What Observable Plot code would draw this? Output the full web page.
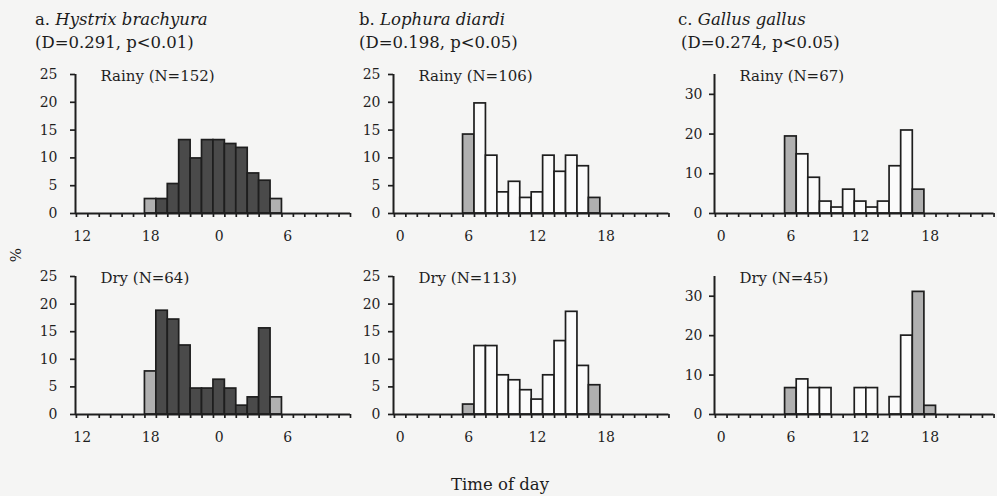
<!DOCTYPE html>
<html>
<head>
<meta charset="utf-8">
<script src="https://cdn.jsdelivr.net/npm/d3@7"></script>
<script src="https://cdn.jsdelivr.net/npm/@observablehq/plot@0.6"></script>
<style>
  html, body { margin: 0; padding: 0; background: #f5f5f4; }
  #root { position: relative; width: 997px; height: 496px; overflow: hidden; font-family: "DejaVu Serif", serif; color: #1c1c1c; }
  .abs { position: absolute; white-space: nowrap; }
  .title { font-size: 16.5px; line-height: 17px; }
  svg { overflow: visible; }
</style>
</head>
<body>
<div id="root"></div>
<script>
// ---- Data (percent of detections per hourly bin) ----
const hoursA = [18, 19, 20, 21, 22, 23, 0, 1, 2, 3, 4, 5];
const aRainy = [2.6, 2.6, 5.3, 13.2, 9.9, 13.2, 13.2, 12.5, 11.8, 7.2, 5.9, 2.6];
const aDry   = [7.8, 18.8, 17.2, 12.5, 4.7, 4.7, 6.3, 4.7, 1.6, 3.1, 15.6, 3.1];
const aTypeRainy = ["twilight","night","night","night","night","night","night","night","night","night","night","twilight"];
const aTypeDry   = ["twilight","night","night","night","night","night","night","night","night","night","night","twilight"];

const hoursB = [6, 7, 8, 9, 10, 11, 12, 13, 14, 15, 16, 17];
const bRainy = [14.2, 19.8, 10.4, 3.8, 5.7, 2.8, 3.8, 10.4, 7.5, 10.4, 8.5, 2.8];
const bDry   = [1.8, 12.4, 12.4, 7.1, 6.2, 4.4, 2.7, 7.1, 13.3, 18.6, 8.8, 5.3];
const bTypeRainy = ["twilight","day","day","day","day","day","day","day","day","day","day","twilight"];
const bTypeDry   = ["twilight","day","day","day","day","day","day","day","day","day","day","twilight"];

const hoursC = [6, 7, 8, 9, 10, 11, 12, 13, 14, 15, 16, 17, 18];
const cRainy = [19.4, 14.9, 9.0, 3.0, 1.5, 6.0, 3.0, 1.5, 3.0, 11.9, 20.9, 6.0, 0];
const cDry   = [6.7, 8.9, 6.7, 6.7, 0, 0, 6.7, 6.7, 0, 4.4, 20.0, 31.1, 2.2];
const cTypeRainy = ["twilight","day","day","day","day","day","day","day","day","day","day","twilight","twilight"];
const cTypeDry   = ["twilight","day","day","day","day","day","day","day","day","day","day","twilight","twilight"];

const tickLabelsA = ["12", "18", "0", "6"];
const tickLabelsBC = ["0", "6", "12", "18"];
const yTicks25 = [0, 5, 10, 15, 20, 25];
const yTicks35 = [0, 10, 20, 30];

const titles = [
  {letter: "a. ", species: "Hystrix brachyura", stats: "(D=0.291, p<0.01)"},
  {letter: "b. ", species: "Lophura diardi", stats: "(D=0.198, p<0.05)"},
  {letter: "c. ", species: "Gallus gallus", stats: "(D=0.274, p<0.05)"}
];
const seasonLabels = [
  ["Rainy (N=152)", "Dry (N=64)"],
  ["Rainy (N=106)", "Dry (N=113)"],
  ["Rainy (N=67)", "Dry (N=45)"]
];

const fills = {twilight: "#b0b0b0", night: "#4a4a4a", day: "#fbfbfb"};
const ink = "#1e1e1e";

// ---- layout ----
const root = document.getElementById("root");
const mL = 45, mR = 8, mT = 15, mB = 40;
const xOff = -0.08;
const cols = [
  {bin0: 75.5, pxh: 11.42, pad: 13, start: 12, tickLabels: tickLabelsA, hours: hoursA, yMax: 25, yTicks: yTicks25,
   series: [[aRainy, aTypeRainy], [aDry, aTypeDry]], titleX: 35, titleX2: 35},
  {bin0: 394.2, pxh: 11.44, pad: 8, start: 0, tickLabels: tickLabelsBC, hours: hoursB, yMax: 25, yTicks: yTicks25,
   series: [[bRainy, bTypeRainy], [bDry, bTypeDry]], titleX: 359, titleX2: 359},
  {bin0: 714.5, pxh: 11.61, pad: 7, start: 0, tickLabels: tickLabelsBC, hours: hoursC, yMax: 35, yTicks: yTicks35,
   series: [[cRainy, cTypeRainy], [cDry, cTypeDry]], titleX: 678, titleX2: 681}
];
const rows = [{yTop: 74, y0: 213}, {yTop: 276, y0: 414}];

cols.forEach((c, ci) => {
  // titles
  const t1 = document.createElement("div");
  t1.className = "abs title";
  t1.style.left = c.titleX + "px"; t1.style.top = "11px";
  t1.textContent = titles[ci].letter;
  const it = document.createElement("i");
  it.textContent = titles[ci].species;
  t1.appendChild(it);
  root.appendChild(t1);
  const t2 = document.createElement("div");
  t2.className = "abs title";
  t2.style.left = c.titleX2 + "px"; t2.style.top = "34px";
  t2.textContent = titles[ci].stats;
  root.appendChild(t2);

  rows.forEach((r, ri) => {
    const [vals, types] = c.series[ri];
    const data = c.hours.map((h, i) => {
      const p = ((h - c.start) % 24 + 24) % 24;
      return {x1: p, x2: p + 1, v: vals[i], type: types[i]};
    }).filter(d => d.v > 0);
    const plotW = (24 - xOff) * c.pxh;
    const plotH = r.y0 - r.yTop;
    const svg = Plot.plot({
      width: mL + plotW + mR,
      height: mT + plotH + mB,
      marginLeft: mL, marginRight: mR, marginTop: mT, marginBottom: mB,
      style: {fontFamily: "DejaVu Serif, serif", fontSize: "14px", background: "transparent", color: ink, overflow: "visible"},
      x: {domain: [xOff, 24]},
      y: {domain: [0, c.yMax]},
      marks: [
        Plot.rect(data, {x1: "x1", x2: "x2", y1: 0, y2: "v", fill: d => fills[d.type], stroke: ink, strokeWidth: 1.7}),
        Plot.axisX({ticks: d3.range(0, 25), tickSize: 4, tickFormat: () => "", stroke: ink, strokeWidth: 1.7}),
        Plot.axisX({ticks: [0.5, 6.5, 12.5, 18.5], tickSize: 0, tickPadding: 18, fill: ink,
                    tickFormat: d => c.tickLabels[Math.round((d - 0.5) / 6)], label: null}),
        Plot.axisY({ticks: c.yTicks, tickSize: 5, tickPadding: c.pad, stroke: ink, strokeWidth: 1.7, fill: ink, label: null}),
        Plot.ruleY([0], {stroke: ink, strokeWidth: 2}),
        Plot.ruleX([xOff], {y1: 0, y2: c.yMax, stroke: ink, strokeWidth: 2}),
        Plot.text([seasonLabels[ci][ri]], {frameAnchor: "top-left", dx: 24 - xOff * c.pxh, dy: 2, lineAnchor: "middle",
                    textAnchor: "start", fontSize: 15, fill: ink})
      ]
    });
    svg.style.position = "absolute";
    svg.style.left = (c.bin0 + xOff * c.pxh - mL) + "px";
    svg.style.top = (r.yTop - mT) + "px";
    root.appendChild(svg);
  });
});

// shared axis labels
const pct = document.createElement("div");
pct.className = "abs";
pct.style.cssText += "left:9px;top:246px;font-size:15px;transform:rotate(-90deg);transform-origin:center;";
pct.textContent = "%";
root.appendChild(pct);
const xl = document.createElement("div");
xl.className = "abs";
xl.style.cssText += "left:500px;top:475px;font-size:16.5px;transform:translateX(-50%);";
xl.textContent = "Time of day";
root.appendChild(xl);
</script>
</body>
</html>
